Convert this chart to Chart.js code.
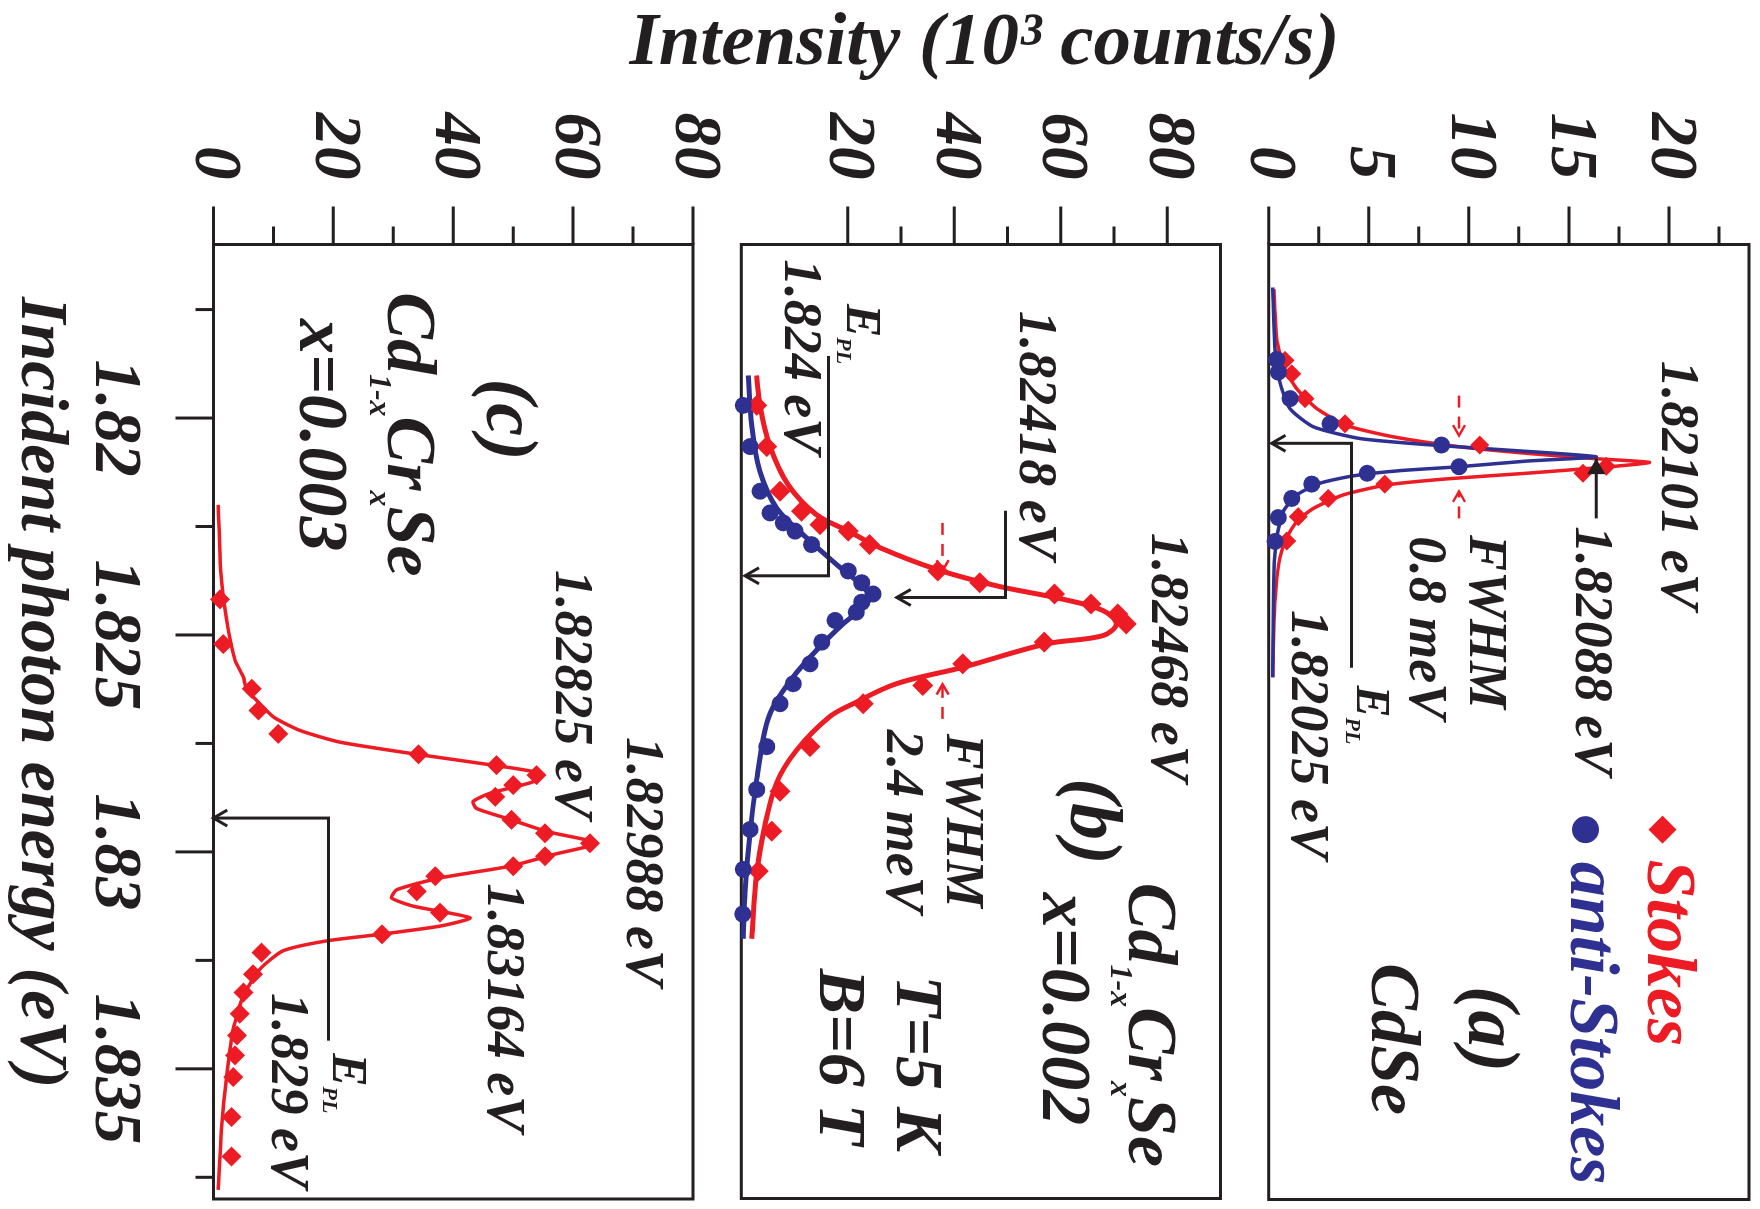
<!DOCTYPE html>
<html>
<head>
<meta charset="utf-8">
<script src="https://cdn.jsdelivr.net/npm/chart.js@4.4.0/dist/chart.umd.min.js"></script>
<style>
  html, body { margin: 0; padding: 0; overflow: hidden; background: #fff; }
  /* the figure is laid out upright and then turned a quarter clockwise */
  #fig { position: absolute; left: 0; top: 0; width: 1209px; height: 1760px;
         transform-origin: 0 0; transform: translate(1760px, 0) rotate(90deg); }
  #fig canvas { position: absolute; left: 0; }
  .title { position: absolute; font-family: 'Liberation Serif', serif; font-style: italic;
           font-weight: bold; color: #231F20; white-space: nowrap; }
  #ytitle { font-size: 75px; line-height: 75px; width: 900px; height: 75px; text-align: center;
            left: -412.5px; top: 737.5px; transform: rotate(-90deg); }
  #xtitle { font-size: 68px; line-height: 68px; left: 297px; top: 1681px; }
</style>
</head>
<body>
<div id="fig">
  <canvas id="pa" width="1209" height="545" style="top:0px"></canvas>
  <canvas id="pb" width="1209" height="570" style="top:480px"></canvas>
  <canvas id="pc" width="1209" height="750" style="top:1010px"></canvas>
  <div class="title" id="ytitle">Intensity (10³ counts/s)</div>
  <div class="title" id="xtitle">Incident photon energy (eV)</div>
</div>
<script>
// energy axis (eV), shared by the three panels
const E_MIN = 1.816, E_MAX = 1.838;
const energyTicks = [1.82, 1.825, 1.83, 1.835];
const energyLabels = ['1.82', '1.825', '1.83', '1.835'];
const energyMinor = [1.8175, 1.8225, 1.8275, 1.8325, 1.8375];

// intensity ticks (10^3 counts/s)
const aTicks = [0, 5, 10, 15, 20], aMinor = [2.5, 7.5, 12.5, 17.5, 22.5];
const bTicks = [20, 40, 60, 80], bMinor = [30, 50, 70];
const cTicks = [0, 20, 40, 60, 80], cMinor = [10, 30, 50, 70];

// (a) CdSe
const aStokesE = [1.81867, 1.81898, 1.81955, 1.82013, 1.82062, 1.82111, 1.82127, 1.82152, 1.82185, 1.82227, 1.82283];
const aStokesI = [0.81, 1.15, 1.81, 3.81, 10.54, 16.87, 15.7, 5.80, 2.97, 1.48, 0.90];
const aAntiE = [1.81865, 1.81894, 1.81955, 1.82013, 1.82062, 1.82112, 1.82127, 1.82152, 1.82185, 1.82229, 1.82284];
const aAntiI = [0.40, 0.48, 1.06, 3.06, 8.63, 9.51, 4.92, 2.15, 1.15, 0.48, 0.31];
const aStokesFitE = [1.81703, 1.81818, 1.81879, 1.81932, 1.81978, 1.82017, 1.82043, 1.82066, 1.82081, 1.82093, 1.82102,
  1.82112, 1.82127, 1.82140, 1.82154, 1.82177, 1.82208, 1.82238, 1.82276, 1.82322, 1.82391, 1.82467, 1.82597];
const aStokesFitI = [0.26, 0.40, 0.73, 1.40, 2.40, 3.89, 6.22, 9.55, 12.87, 16.2, 19.03,
  17.03, 12.87, 8.88, 5.89, 3.72, 2.23, 1.40, 0.90, 0.56, 0.36, 0.26, 0.20];
const aAntiFitE = [1.81699, 1.81841, 1.81917, 1.81978, 1.82020, 1.82047, 1.82061, 1.82074, 1.82089, 1.82099,
  1.82112, 1.82121, 1.82133, 1.82150, 1.82177, 1.82215, 1.82276, 1.82353, 1.82597];
const aAntiFitI = [0.20, 0.31, 0.56, 1.06, 2.23, 4.56, 7.88, 12.04, 16.37, 12.87,
  9.51, 6.55, 4.22, 2.56, 1.40, 0.73, 0.40, 0.26, 0.20];

// (b) Cd1-xCrxSe, x=0.002
const bStokesE = [1.81971, 1.82066, 1.82169, 1.82215, 1.82246, 1.82261, 1.82292, 1.82353, 1.82380, 1.82406, 1.82429,
  1.82452, 1.82475, 1.82517, 1.82567, 1.82617, 1.82659, 1.82758, 1.82861, 1.82953, 1.83045];
const bStokesI = [2.88, 4.76, 7.26, 11.3, 14.8, 20.1, 24.1, 36.9, 44.8, 58.8, 65.7,
  70.7, 72.3, 56.9, 41.6, 34.1, 22.9, 12.9, 7.26, 5.7, 3.2];
const bAntiE = [1.81971, 1.82066, 1.82169, 1.82219, 1.82242, 1.82261, 1.82292, 1.82353, 1.82380, 1.82406, 1.82425,
  1.82448, 1.82467, 1.82517, 1.82567, 1.82613, 1.82659, 1.82758, 1.82857, 1.82949, 1.83041, 1.83144];
const bAntiI = [0.38, 1.63, 3.5, 5.38, 7.88, 10.1, 13.2, 20.1, 22.6, 24.75, 22.6,
  21.6, 17.6, 15.1, 12.9, 9.75, 7.26, 4.76, 2.88, 1.63, 0.38, 0.26];
const bStokesFitE = [1.81902, 1.81971, 1.82065, 1.82154, 1.82223, 1.82261, 1.82299, 1.82349, 1.82387, 1.82418, 1.82444, 1.82475,
  1.82502, 1.82521, 1.82575, 1.82613, 1.82659, 1.82689, 1.82766, 1.82842, 1.82942, 1.83049, 1.83201];
const bStokesFitI = [2.88, 3.5, 5.38, 8.8, 14.1, 20.1, 26.0, 36.6, 47.9, 60.4, 67.9, 70.4,
  67.9, 57.3, 41.6, 29.1, 21.0, 16.6, 10.4, 6.6, 4.4, 2.9, 1.95];
const bAntiFitE = [1.81902, 1.82017, 1.82123, 1.82208, 1.82269, 1.82338, 1.82383, 1.82414, 1.82437,
  1.82475, 1.82536, 1.82597, 1.82666, 1.82720, 1.82834, 1.82958, 1.83094, 1.83201];
const bAntiFitI = [1.31, 1.95, 3.5, 6.64, 11.6, 17.9, 22.3, 24.1, 22.9,
  19.1, 14.1, 9.75, 6.0, 4.44, 2.88, 1.63, 0.69, 0.38];

// (c) Cd1-xCrxSe, x=0.003
const cStokesE = [1.82418, 1.82521, 1.82624, 1.82674, 1.82728, 1.82775, 1.82800, 1.82823, 1.82846, 1.82873, 1.82926, 1.82957,
  1.82980, 1.83010, 1.83033, 1.83056, 1.83091, 1.83140, 1.83190, 1.83232, 1.83282, 1.83324, 1.83373, 1.83423,
  1.83469, 1.83519, 1.83611, 1.83702];
const cStokesI = [1.08, 1.64, 6.4, 7.5, 10.8, 34.2, 47.2, 53.9, 50.0, 47.0, 49.7, 55.3,
  62.8, 55.3, 50.0, 37.0, 33.9, 37.8, 28.1, 8.0, 6.6, 5.0, 4.4, 3.9,
  3.6, 3.3, 3.0, 3.0];
const cFitE = [1.82200, 1.82353, 1.82467, 1.82559, 1.82597, 1.82628, 1.82643, 1.82689, 1.82720, 1.82747, 1.82775, 1.82800,
  1.82819, 1.82838, 1.82865, 1.82884, 1.82900, 1.82926, 1.82953, 1.82980, 1.83006, 1.83033, 1.83060, 1.83087,
  1.83106, 1.83125, 1.83152, 1.83171, 1.83190, 1.83205, 1.83228, 1.83270, 1.83331, 1.83408, 1.83515, 1.83630, 1.83779];
const cFitI = [0.8, 1.2, 2.2, 3.6, 5.0, 5.5, 6.64, 10.0, 14.4, 21.1, 33.9, 46.6,
  54.5, 53.4, 46.1, 43.3, 43.9, 49.7, 55.6, 63.9, 56.7, 49.5, 37.8, 30.6,
  29.7, 33.3, 42.8, 37.8, 27.8, 18.9, 11.6, 7.76, 5.0, 3.3, 2.2, 1.37, 0.8];

const RED = '#ED1C24', BLUE = '#2E3192', INK = '#231F20';
const FONT = "'Liberation Serif', 'Times New Roman', serif";

const pts = (xs, ys) => xs.map((x, i) => ({x, y: ys[i]}));

function marks(color, style, r, xs, ys) {
  return {data: pts(xs, ys), showLine: false, pointStyle: style, pointRadius: r,
    backgroundColor: color, borderColor: color, pointBorderWidth: 0, clip: false};
}
function fit(color, w, t, xs, ys) {
  return {data: pts(xs, ys), showLine: true, pointRadius: 0, borderColor: color,
    borderWidth: w, tension: t, clip: false};
}

// frame and outward tick marks (major long, minor short)
const framePlugin = {
  id: 'frame',
  beforeDatasetsDraw(chart, args, o) {
    const {ctx, chartArea: a, scales: {x, y}} = chart;
    ctx.save();
    ctx.strokeStyle = INK;
    ctx.lineWidth = 3;
    ctx.strokeRect(a.left, a.top, a.right - a.left, a.bottom - a.top);
    ctx.beginPath();
    const yt = (vals, len) => vals.forEach(v => {
      const p = y.getPixelForValue(v);
      ctx.moveTo(a.left, p); ctx.lineTo(a.left - len, p);
    });
    const xt = (vals, len) => vals.forEach(v => {
      const p = x.getPixelForValue(v);
      ctx.moveTo(p, a.bottom); ctx.lineTo(p, a.bottom + len);
    });
    yt(o.yMajor, 38); yt(o.yMinor, 18);
    if (o.xTicks) { xt(energyTicks, 38); xt(energyMinor, 18); }
    ctx.stroke();
    ctx.restore();
  }
};

function head(ctx, p, q, len, open) {
  const ang = Math.atan2(q.y - p.y, q.x - p.x), s = Math.PI / 6;
  ctx.beginPath();
  ctx.moveTo(q.x - len * Math.cos(ang - s), q.y - len * Math.sin(ang - s));
  ctx.lineTo(q.x, q.y);
  ctx.lineTo(q.x - len * Math.cos(ang + s), q.y - len * Math.sin(ang + s));
  if (open) ctx.stroke(); else { ctx.closePath(); ctx.fill(); }
}

// labels, arrows and legend drawn in data coordinates
const notesPlugin = {
  id: 'notes',
  afterDatasetsDraw(chart, args, o) {
    const {ctx, scales: {x, y}} = chart;
    const px = ([e, i]) => ({x: x.getPixelForValue(e), y: y.getPixelForValue(i)});
    ctx.save();
    (o.arrows || []).forEach(a => {
      const p = a.path.map(px);
      ctx.strokeStyle = INK; ctx.fillStyle = INK; ctx.lineWidth = 3; ctx.setLineDash([]);
      ctx.beginPath();
      p.forEach((q, k) => k ? ctx.lineTo(q.x, q.y) : ctx.moveTo(q.x, q.y));
      ctx.stroke();
      head(ctx, p[p.length - 2], p[p.length - 1], a.open ? 16 : 18, a.open);
    });
    (o.dashes || []).forEach(a => {
      const p = a.map(px);
      ctx.strokeStyle = RED; ctx.lineWidth = 2.5;
      ctx.setLineDash([12, 9]);
      ctx.beginPath(); ctx.moveTo(p[0].x, p[0].y); ctx.lineTo(p[1].x, p[1].y); ctx.stroke();
      ctx.setLineDash([]);
      head(ctx, p[0], p[1], 12, true);
    });
    ctx.textBaseline = 'alphabetic';
    (o.texts || []).forEach(t => {
      const q = px(t.at);
      let cx = q.x;
      t.parts.forEach(([s, size, dy, color]) => {
        ctx.font = `italic bold ${size}px ${FONT}`;
        ctx.fillStyle = color || INK;
        ctx.fillText(s, cx, q.y + (dy || 0));
        cx += ctx.measureText(s).width;
      });
    });
    (o.keys || []).forEach(k => {
      const q = px(k.at);
      ctx.fillStyle = k.color;
      ctx.beginPath();
      if (k.style === 'diamond') {
        ctx.moveTo(q.x, q.y - k.r); ctx.lineTo(q.x + k.r, q.y);
        ctx.lineTo(q.x, q.y + k.r); ctx.lineTo(q.x - k.r, q.y); ctx.closePath();
      } else {
        ctx.arc(q.x, q.y, k.r, 0, Math.PI * 2);
      }
      ctx.fill();
    });
    ctx.restore();
  }
};

const tickFont = {family: FONT, size: 67, style: 'italic', weight: 'bold'};

function panel(id, c) {
  return new Chart(document.getElementById(id), {
    type: 'scatter',
    data: {datasets: c.datasets},
    options: {
      responsive: false,
      animation: false,
      events: [],
      layout: {padding: {top: c.padTop, bottom: c.padBottom, left: 0, right: 6}},
      plugins: {
        legend: {display: false},
        tooltip: {enabled: false},
        frame: {yMajor: c.yTicks, yMinor: c.yMinor, xTicks: c.showX},
        notes: c.notes
      },
      scales: {
        x: {
          type: 'linear', min: E_MIN, max: E_MAX, display: c.showX,
          afterBuildTicks: s => { s.ticks = energyTicks.map(v => ({value: v})); },
          afterFit: s => { s.height = c.xHeight || 0; s.paddingLeft = 0; s.paddingRight = 0; },
          grid: {display: false}, border: {display: false},
          ticks: {font: tickFont, color: INK, padding: 52, maxRotation: 0, autoSkip: false,
            callback: (v, i) => energyLabels[i]}
        },
        y: {
          type: 'linear', min: c.yMin, max: c.yMax,
          afterBuildTicks: s => { s.ticks = c.yTicks.map(v => ({value: v})); },
          afterFit: s => { s.width = 244.5; s.paddingTop = 0; s.paddingBottom = 0; },
          grid: {display: false}, border: {display: false},
          ticks: {font: tickFont, color: INK, padding: 57, autoSkip: false, callback: v => String(v)}
        }
      }
    },
    plugins: [framePlugin, notesPlugin]
  });
}

// canvases overlap so that end labels are not cut; chart areas sit at the measured places
panel('pa', {
  yMin: 0, yMax: 24, yTicks: aTicks, yMinor: aMinor, showX: false, padTop: 11, padBottom: 53.7,
  datasets: [
    marks(BLUE, 'circle', 8.5, aAntiE, aAntiI),
    marks(RED, 'rectRot', 9.5, aStokesE, aStokesI),
    fit(BLUE, 3.5, 0.2, aAntiFitE, aAntiFitI),
    fit(RED, 3.5, 0.2, aStokesFitE, aStokesFitI)
  ],
  notes: {
    texts: [
      {at: [1.81868, 19.63], parts: [['1.82101 eV', 54]]},
      {at: [1.82249, 15.38], parts: [['1.82088 eV', 54]]},
      {at: [1.82269, 10.04], parts: [['FWHM', 54]]},
      {at: [1.82272, 7.05], parts: [['0.8 meV', 54]]},
      {at: [1.82616, 4.41], parts: [['E', 48], ['PL', 22, 11]]},
      {at: [1.82442, 1.16], parts: [['1.82025 eV', 54]]},
      {at: [1.83308, 9.99], parts: [['(a)', 74]]},
      {at: [1.83256, 5.15], parts: [['CdSe', 70]]},
      {at: [1.83017, 18.93], parts: [['Stokes', 70, 0, RED]]},
      {at: [1.83022, 15.13], parts: [['anti-Stokes', 70, 0, BLUE]]}
    ],
    keys: [
      {at: [1.82948, 19.68], style: 'diamond', r: 14, color: RED},
      {at: [1.82948, 15.83], style: 'circle', r: 13.5, color: BLUE}
    ],
    arrows: [
      {path: [[1.82575, 4.14], [1.82058, 4.14], [1.82058, 0.15]], open: true},
      {path: [[1.82231, 16.37], [1.82093, 16.37]], open: false}
    ],
    dashes: [
      [[1.81948, 9.51], [1.82040, 9.51]],
      [[1.82231, 9.51], [1.82169, 9.51]]
    ]
  }
});

panel('pb', {
  yMin: 0, yMax: 90, yTicks: bTicks, yMinor: bMinor, showX: false, padTop: 59.5, padBottom: 31.3,
  datasets: [
    marks(BLUE, 'circle', 8.5, bAntiE, bAntiI),
    marks(RED, 'rectRot', 10.5, bStokesE, bStokesI),
    fit(BLUE, 5, 0.35, bAntiFitE, bAntiFitI),
    fit(RED, 5, 0.35, bStokesFitE, bStokesFitI)
  ],
  notes: {
    texts: [
      {at: [1.82265, 77.2], parts: [['1.82468 eV', 54]]},
      {at: [1.81753, 52.3], parts: [['1.82418 eV', 54]]},
      {at: [1.81737, 19.8], parts: [['E', 50], ['PL', 22, 10]]},
      {at: [1.81634, 8.2], parts: [['1.824 eV', 54]]},
      {at: [1.82728, 38.6], parts: [['FWHM', 54]]},
      {at: [1.82719, 27.3], parts: [['2.4 meV', 54]]},
      {at: [1.82831, 62.0], parts: [['(b)', 74]]},
      {at: [1.83072, 72.9], parts: [['Cd', 70], ['1-x', 32, 18], ['Cr', 70], ['x', 32, 18], ['Se', 70]]},
      {at: [1.83095, 56.6], parts: [['x=0.002', 70]]},
      {at: [1.83286, 29.2], parts: [['T=5 K', 68]]},
      {at: [1.83270, 14.8], parts: [['B=6 T', 68]]}
    ],
    arrows: [
      {path: [[1.82214, 49.6], [1.82414, 49.6], [1.82414, 29.2]], open: true},
      {path: [[1.81857, 16.4], [1.82364, 16.4], [1.82364, 0.7]], open: true}
    ],
    dashes: [
      [[1.82242, 37.8], [1.82352, 37.8]],
      [[1.82694, 37.8], [1.82614, 37.8]]
    ]
  }
});

panel('pc', {
  yMin: 0, yMax: 80, yTicks: cTicks, yMinor: cMinor, showX: true, xHeight: 213.5, padTop: 57, padBottom: 0,
  datasets: [
    marks(RED, 'rectRot', 10, cStokesE, cStokesI),
    fit(RED, 3.5, 0.2, cFitE, cFitI)
  ],
  notes: {
    texts: [
      {at: [1.8235, 57.1], parts: [['1.82825 eV', 54]]},
      {at: [1.82735, 69.0], parts: [['1.82988 eV', 54]]},
      {at: [1.83072, 45.8], parts: [['1.83164 eV', 54]]},
      {at: [1.83464, 19.9], parts: [['E', 50], ['PL', 22, 10]]},
      {at: [1.83325, 9.8], parts: [['1.829 eV', 54]]},
      {at: [1.81909, 45.6], parts: [['(c)', 74]]},
      {at: [1.8171, 29.1], parts: [['Cd', 70], ['1-x', 32, 18], ['Cr', 70], ['x', 32, 18], ['Se', 70]]},
      {at: [1.81772, 14.4], parts: [['x=0.003', 70]]}
    ],
    arrows: [
      {path: [[1.83435, 19.2], [1.82922, 19.2], [1.82922, 0]], open: true}
    ]
  }
});
</script>
</body>
</html>
